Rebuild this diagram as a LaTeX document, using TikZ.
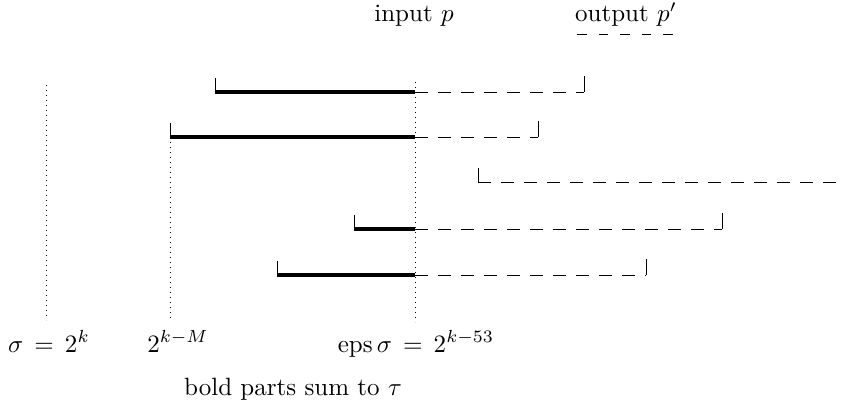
\documentclass[tikz,border=0pt]{standalone}
\usepackage{amsmath}
\begin{document}
\begin{tikzpicture}[x=1pt,y=-1pt,
  lbl/.style={inner sep=0pt,anchor=base,scale=2.5},
  boldpart/.style={line width=3.2pt},
  restpart/.style={line width=0.9pt,dash pattern=on 13pt off 10pt},
  tickmark/.style={line width=0.9pt},
  guide/.style={line width=0.9pt,dash pattern=on 1pt off 4pt}]
\useasboundingbox (0,0) rectangle (844,412);
% labels
\node[lbl] (inp) at (414,22) {input $p$};
\node[lbl] (outp) at (626,22) {output $p'$};
\coordinate (ul1) at (577,34);
\coordinate (ul2) at (673,34);
\draw[line width=0.9pt,dash pattern=on 9.5pt off 12pt] (ul1) -- (ul2);
\node[lbl] (sig) at (49,352) {$\sigma\,=\,2^k$};
\node[lbl] (kM) at (178,352) {$2^{k-M}$};
\node[lbl] (eps) at (416,352) {$\mathrm{eps}\,\sigma\,=\,2^{k-53}$};
\node[lbl] (sum) at (293,395) {bold parts sum to $\tau$};
% guides
\coordinate (g1t) at (46,85);  \coordinate (g1b) at (46,320);
\coordinate (g2t) at (170,137); \coordinate (g2b) at (170,320);
\coordinate (g3t) at (415,82); \coordinate (g3b) at (415,322);
\draw[guide] (g1t) -- (g1b);
\draw[guide] (g2t) -- (g2b);
\draw[guide] (g3t) -- (g3b);
% rows: start, split, end
\foreach \n/\a/\b/\c/\y in {r1/215/415/584/92, r2/170/415/538/137, r4/354/415/722/229, r5/277/415/646/275}{
  \coordinate (\n a) at (\a,\y);
  \coordinate (\n b) at (\b,\y);
  \coordinate (\n c) at (\c,\y);
  \draw[tickmark] (\n a) -- ++(0,-14);
  \draw[boldpart] (\n a) -- (\n b);
  \draw[restpart] (\n b) -- (\n c);
  \draw[tickmark] (\n c) -- ++(0,-16);
}
\coordinate (r3a) at (478,182);
\coordinate (r3c) at (844,182);
\draw[tickmark] (r3a) -- ++(0,-14);
\draw[restpart] (r3a) -- (r3c);
\end{tikzpicture}
\end{document}
